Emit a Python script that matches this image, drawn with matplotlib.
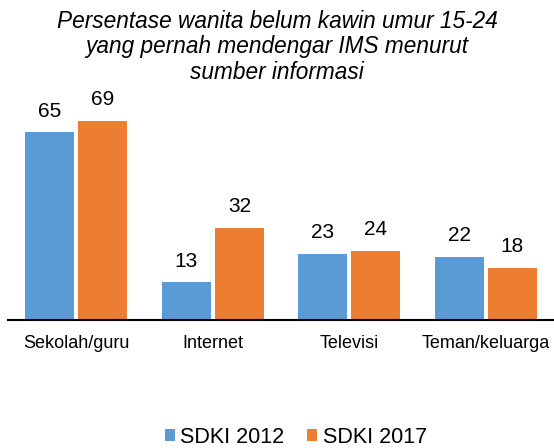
import matplotlib
matplotlib.use("Agg")
import matplotlib.pyplot as plt
import numpy as np

plt.rcParams['font.family'] = ['Liberation Sans', 'DejaVu Sans']

categories = ['Sekolah/guru', 'Internet', 'Televisi', 'Teman/keluarga']
sdki_2012 = [65, 13, 23, 22]
sdki_2017 = [69, 32, 24, 18]
series_names = ['SDKI 2012', 'SDKI 2017']
colors = ['#5B9BD5', '#ED7D31']

fig = plt.figure(figsize=(5.54, 4.48), dpi=100)
ax = fig.add_axes([8 / 554, 1 - 320 / 448, 546 / 554, 75 * 2.885 / 448])

x = np.arange(len(categories))
w = 0.36
off = 0.195
for vals, name, col, d in zip([sdki_2012, sdki_2017], series_names, colors, [-off, off]):
    bars = ax.bar(x + d, vals, w, color=col, label=name)
    for b, v in zip(bars, vals):
        ax.text(b.get_x() + b.get_width() / 2, v + 5.5, str(v),
                ha='center', va='baseline', fontsize=15)

ax.set_xlim(-0.5, 3.5)
ax.set_ylim(0, 75)
ax.set_yticks([])
ax.set_xticks(x)
ax.set_xticklabels(categories, fontsize=13)
ax.tick_params(axis='x', length=0, pad=11)
for s in ['top', 'right', 'left']:
    ax.spines[s].set_visible(False)
ax.spines['bottom'].set_linewidth(1.5)
ax.spines['bottom'].set_color('black')

fig.text(0.5, 1 - 47 / 448,
         'Persentase wanita belum kawin umur 15-24\nyang pernah mendengar IMS menurut\nsumber informasi',
         ha='center', va='center', fontsize=16.3, style='italic', linespacing=1.15)

fig.legend(loc='center left', bbox_to_anchor=(165 / 554, 1 - 437 / 448), ncol=2,
           frameon=False, borderpad=0, borderaxespad=0,
           fontsize=15.5, handlelength=0.47, handleheight=0.47, handletextpad=0.25,
           columnspacing=1.05)

fig.savefig('out.png', dpi=100)
